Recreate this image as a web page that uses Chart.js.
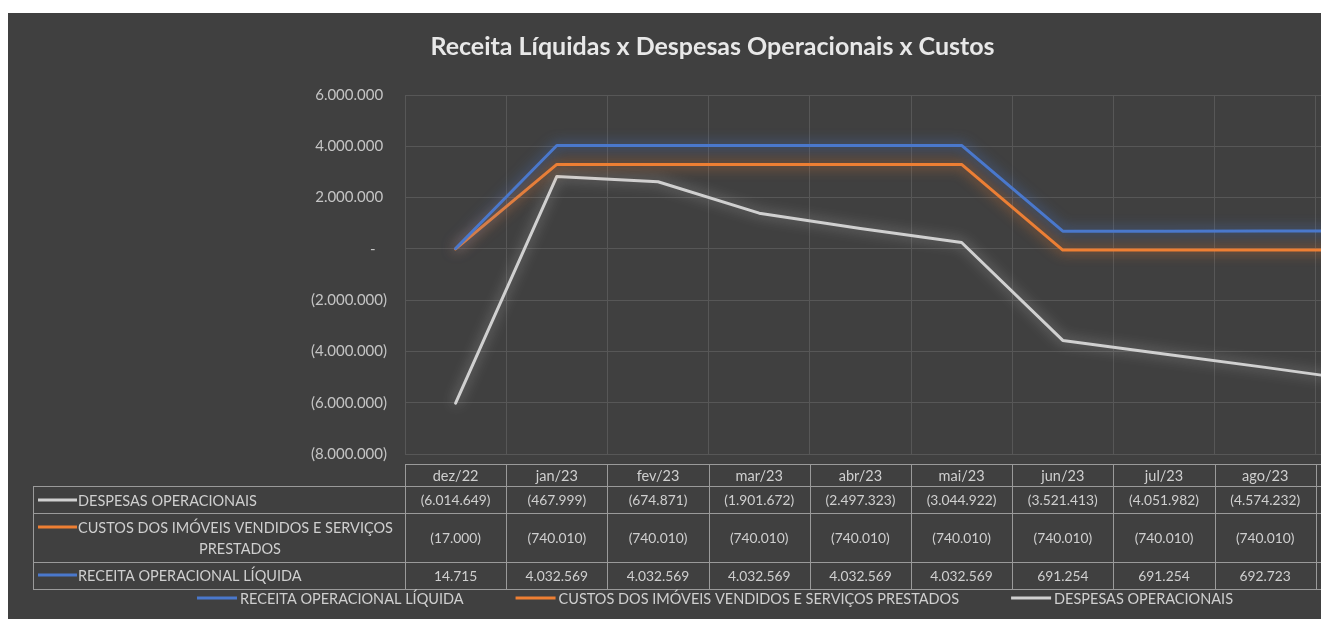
<!DOCTYPE html>
<html>
<head>
<meta charset="utf-8">
<script src="https://cdn.jsdelivr.net/npm/chart.js@4.4.1/dist/chart.umd.min.js"></script>
<style>
  html, body { margin: 0; padding: 0; background: #ffffff; overflow: hidden; width: 1321px; height: 619px; }
  #card { position: absolute; left: 8px; top: 13px; width: 1410px; height: 610px; background: #404040; }
  canvas { display: block; }
</style>
</head>
<body>
<div id="card"><canvas id="c" width="1410" height="610"></canvas></div>
<script>
// ---- data ----
const categories = ['dez/22', 'jan/23', 'fev/23', 'mar/23', 'abr/23', 'mai/23', 'jun/23', 'jul/23', 'ago/23', 'set/23'];
const receitaLiquida = [14715, 4032569, 4032569, 4032569, 4032569, 4032569, 691254, 691254, 692723, 692723];
const custosImoveis = [-17000, -740010, -740010, -740010, -740010, -740010, -740010, -740010, -740010, -740010];
const despesasOperacionais = [-6014649, -467999, -674871, -1901672, -2497323, -3044922, -3521413, -4051982, -4574232, -5120000];
const yTicks = [6000000, 4000000, 2000000, 0, -2000000, -4000000, -6000000, -8000000];

const seriesNames = {
  receita: 'RECEITA OPERACIONAL LÍQUIDA',
  custos: 'CUSTOS DOS IMÓVEIS VENDIDOS E SERVIÇOS PRESTADOS',
  despesas: 'DESPESAS OPERACIONAIS'
};
const colors = { receita: '#4a78cc', custos: '#ee7f33', despesas: '#d0d0d0' };
const FONT = 'Lato, "Open Sans", sans-serif';

function fmtInt(v) {
  return Math.abs(Math.round(v)).toString().replace(/\B(?=(\d{3})+(?!\d))/g, '.');
}
function fmtAcc(v) {
  if (v === 0) return '-';
  return v < 0 ? '(' + fmtInt(v) + ')' : fmtInt(v);
}

const glowPlugin = {
  id: 'glow',
  beforeDatasetDraw(chart, args) {
    const ds = chart.data.datasets[args.index];
    const ctx = chart.ctx;
    ctx.save();
    ctx.shadowColor = ds.glowColor;
    ctx.shadowBlur = 13;
  },
  afterDatasetDraw(chart) {
    chart.ctx.restore();
  }
};

const tablePlugin = {
  id: 'dataTable',
  afterDraw(chart) {
    const ctx = chart.ctx;
    const area = chart.chartArea;
    const n = categories.length;
    const colW = (area.right - area.left) / n;
    const headTop = 451, r1 = 473, r2 = 500, r3 = 549, r4 = 576;
    const leftX = 25;
    ctx.save();
    ctx.strokeStyle = '#9a9a9a';
    ctx.lineWidth = 1;
    ctx.beginPath();
    ctx.moveTo(area.left, headTop + 0.5); ctx.lineTo(area.right, headTop + 0.5);
    [r1, r2, r3, r4].forEach(y => { ctx.moveTo(leftX, y + 0.5); ctx.lineTo(area.right, y + 0.5); });
    for (let i = 0; i <= n; i++) {
      const x = Math.round(area.left + i * colW) + 0.5;
      ctx.moveTo(x, headTop); ctx.lineTo(x, r4);
    }
    ctx.moveTo(leftX + 0.5, r1); ctx.lineTo(leftX + 0.5, r4);
    ctx.stroke();

    ctx.fillStyle = '#cfcfcf';
    ctx.textBaseline = 'middle';
    ctx.textAlign = 'center';
    const rows = [
      { data: despesasOperacionais, y: (r1 + r2) / 2 },
      { data: custosImoveis, y: (r2 + r3) / 2 },
      { data: receitaLiquida, y: (r3 + r4) / 2 }
    ];
    for (let i = 0; i < n; i++) {
      const cx = chart.scales.x.getPixelForValue(i);
      ctx.font = '14.5px ' + FONT;
      ctx.fillText(categories[i], cx, (headTop + r1) / 2 + 1);
      ctx.font = '13.8px ' + FONT;
      rows.forEach(r => ctx.fillText(fmtAcc(r.data[i]), cx, r.y + 1));
    }
    ctx.font = '14.5px ' + FONT;
    const keyX0 = 30, keyX1 = 69, textX = 70;
    function key(color, y) {
      ctx.strokeStyle = color; ctx.lineWidth = 3;
      ctx.beginPath(); ctx.moveTo(keyX0, y); ctx.lineTo(keyX1, y); ctx.stroke();
    }
    ctx.textAlign = 'left';
    key(colors.despesas, 487);
    ctx.fillText(seriesNames.despesas, textX, 488);
    key(colors.custos, 514);
    ctx.fillText('CUSTOS DOS IMÓVEIS VENDIDOS E SERVIÇOS', textX, 515);
    ctx.textAlign = 'center';
    ctx.fillText('PRESTADOS', 232, 536);
    ctx.textAlign = 'left';
    key(colors.receita, 562);
    ctx.fillText(seriesNames.receita, textX, 563);

    // legend
    const items = chart.data.datasets.map(d => ({ label: d.label, color: d.borderColor }));
    const keyW = 40, gapKT = 3, gapItem = 52;
    let total = 0;
    items.forEach((it, i) => { it.w = ctx.measureText(it.label).width; total += keyW + gapKT + it.w + (i ? gapItem : 0); });
    let x = chart.width / 2 - total / 2 + 2;
    const ly = 585;
    items.forEach((it, i) => {
      if (i) x += gapItem;
      ctx.strokeStyle = it.color; ctx.lineWidth = 3;
      ctx.beginPath(); ctx.moveTo(x, ly); ctx.lineTo(x + keyW, ly); ctx.stroke();
      x += keyW + gapKT;
      ctx.fillStyle = '#cfcfcf';
      ctx.fillText(it.label, x, ly + 1);
      x += it.w;
    });
    ctx.restore();
  }
};

new Chart(document.getElementById('c'), {
  type: 'line',
  data: {
    labels: categories,
    datasets: [
      { label: seriesNames.receita, data: receitaLiquida, borderColor: colors.receita, glowColor: 'rgba(74,120,204,0.95)' },
      { label: seriesNames.custos, data: custosImoveis, borderColor: colors.custos, glowColor: 'rgba(238,127,51,0.95)' },
      { label: seriesNames.despesas, data: despesasOperacionais, borderColor: colors.despesas, glowColor: 'rgba(200,200,200,0.7)' }
    ].map(d => Object.assign(d, { borderWidth: 3, pointRadius: 0, tension: 0, fill: false, borderJoinStyle: 'round', borderCapStyle: 'round' }))
  },
  options: {
    responsive: false,
    animation: false,
    devicePixelRatio: 1,
    layout: { padding: { left: 0, right: 1, top: 0, bottom: 169 } },
    plugins: {
      legend: { display: false },
      tooltip: { enabled: false },
      title: {
        display: true,
        text: 'Receita Líquidas x Despesas Operacionais x Custos',
        color: '#e8e8e8',
        font: { family: FONT, size: 25, weight: 'bold' },
        padding: { top: 19, bottom: 33 }
      }
    },
    scales: {
      x: {
        offset: true,
        border: { display: false },
        grid: { offset: true, color: '#575757', drawTicks: false },
        ticks: { display: false }
      },
      y: {
        stacked: 'single',
        min: -8000000,
        max: 6000000,
        afterBuildTicks(scale) { scale.ticks = yTicks.map(v => ({ value: v })); },
        afterFit(scale) { scale.width = 397; },
        border: { display: false },
        grid: { color: '#575757', drawTicks: false },
        ticks: {
          padding: 18,
          color: '#c4c4c4',
          font: { family: FONT, size: 15 },
          callback(v) {
            if (v === 0) return '-   ';
            return v < 0 ? '(' + fmtInt(v) + ')' : fmtInt(v) + ' ';
          }
        }
      }
    }
  },
  plugins: [glowPlugin, tablePlugin]
});
</script>
</body>
</html>
